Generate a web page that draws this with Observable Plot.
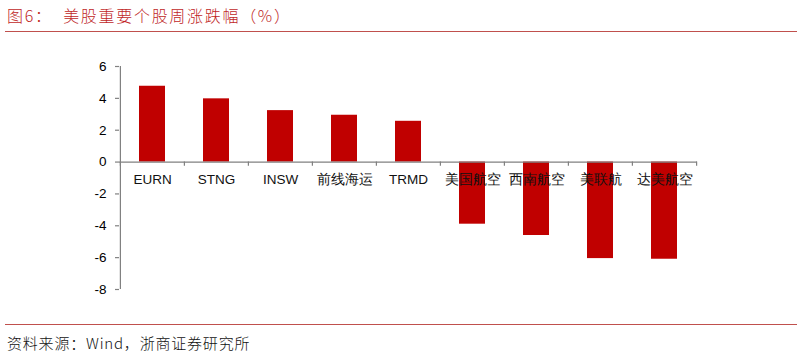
<!DOCTYPE html>
<html><head><meta charset="utf-8">
<script src="https://cdn.jsdelivr.net/npm/d3@7"></script>
<script src="https://cdn.jsdelivr.net/npm/@observablehq/plot@0.6"></script>
<style>
body{margin:0;background:#fff;}
#wrap{position:relative;width:802px;height:356px;overflow:hidden;}
#title{position:absolute;left:7px;top:3px;font-family:"Noto Sans CJK SC",sans-serif;font-size:16px;color:#c01f1f;letter-spacing:1.7px;white-space:pre;font-weight:300;}
#line1{position:absolute;left:5px;width:792px;top:31px;height:0;border-top:1.3px solid #c0504d;}
#line2{position:absolute;left:5px;width:792px;top:324px;height:0;border-top:1.3px solid #c0504d;}
#source{position:absolute;left:7px;top:332px;font-family:"Noto Sans CJK SC",sans-serif;font-size:15px;color:#111;font-weight:300;letter-spacing:0.8px;white-space:pre;}
#chart{position:absolute;left:0;top:0;}
</style></head>
<body><div id="wrap">
<div id="chart"></div>
<div id="title"></div>
<div id="line1"></div>
<div id="line2"></div>
<div id="source"></div>
</div>
<script>
const titleText = "图6：  美股重要个股周涨跌幅（%）";
const sourceText = "资料来源：Wind，浙商证券研究所";
const categories = ["EURN","STNG","INSW","前线海运","TRMD","美国航空","西南航空","美联航","达美航空"];
const values = [4.76, 3.97, 3.23, 2.94, 2.56, -3.9, -4.61, -6.06, -6.1];
const yTicks = [-8,-6,-4,-2,0,2,4,6];

document.getElementById("title").textContent = titleText;
document.getElementById("source").textContent = sourceText;

const data = categories.map((c,i)=>({cat:c, v:values[i]}));
const W = 802, H = 356, mL = 119, mR = 105, mT = 66, mB = 67;
const step = (W - mL - mR) / categories.length;
const lastCat = categories[categories.length-1];

const chart = Plot.plot({
  width: W, height: H,
  marginLeft: mL, marginRight: mR, marginTop: mT, marginBottom: mB,
  style: {fontFamily: "'Liberation Sans', Arial, sans-serif", fontSize: "13px", color: "#000", background: "transparent"},
  x: {domain: categories, paddingInner: 0.6, paddingOuter: 0.3, axis: null},
  y: {domain: [-8, 6], axis: null},
  marks: [
    Plot.barY(data, {x: "cat", y: "v", fill: "#c00000"}),
    Plot.ruleY([0], {stroke: "#808080", strokeWidth: 1.2}),
    Plot.ruleX(categories, {x: d=>d, dx: -step/2, y1: 0, y2: -0.27, stroke: "#808080", strokeWidth: 1.2}),
    Plot.ruleX([lastCat], {x: d=>d, dx: step/2, y1: 0, y2: -0.27, stroke: "#808080", strokeWidth: 1.2}),
    Plot.axisY({ticks: yTicks, label: null, tickSize: 4, tickPadding: 9, stroke: "#808080", strokeWidth: 1.2, tickFormat: d=>String(d), fontSize: 13.5, fill:"#000"}),
    Plot.ruleX([categories[0]], {x: d=>d, dx: -step/2, y1: -8, y2: 6, stroke: "#808080", strokeWidth: 1.2}),
    Plot.text(data, {x: "cat", y: 0, dy: 18, text: "cat", fontSize: 13.5, fill: "#111",
      fontFamily: d => /[A-Z]/.test(d.cat) ? "'Liberation Sans', Arial, sans-serif" : "'Noto Sans CJK SC', sans-serif",
      fontWeight: d => /[A-Z]/.test(d.cat) ? "normal" : 300})
  ]
});
document.getElementById("chart").appendChild(chart);
</script>
</body></html>
